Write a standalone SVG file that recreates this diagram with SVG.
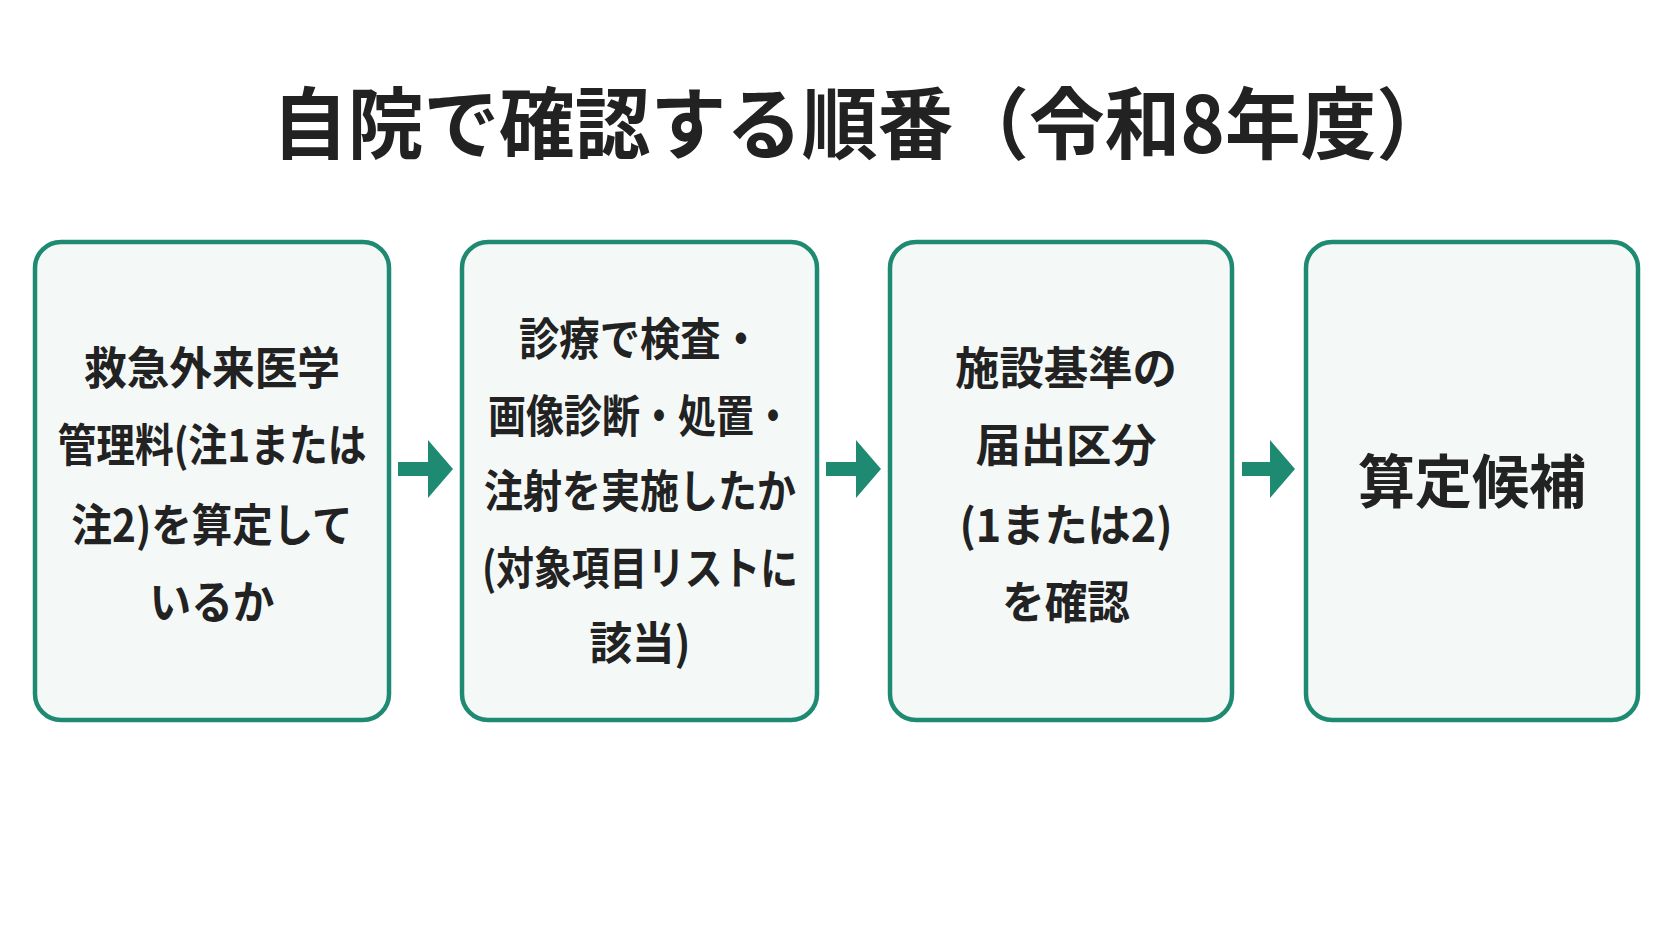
<svg xmlns="http://www.w3.org/2000/svg" width="1672" height="941" viewBox="0 0 1672 941">
<style>
.box{fill:#f4f9f8;stroke:#1f8a72;stroke-width:4.5}
.t{font-family:"Noto Sans CJK JP","Noto Sans",sans-serif;font-weight:700;fill:#222;text-anchor:middle;dominant-baseline:central}
.b{font-size:45px}
.arr{fill:#1f8a72}
</style>
<rect width="1672" height="941" fill="#fff"/>
<text class="t" x="862" y="119" font-size="78" textLength="1180" lengthAdjust="spacingAndGlyphs">自院で確認する順番（令和8年度）</text>
<g id="n1"><rect class="box" x="35" y="242" width="354" height="478" rx="26"/>
<text class="t b" x="212" y="365" textLength="256" lengthAdjust="spacingAndGlyphs">救急外来医学</text><text class="t b" x="212" y="442" textLength="309" lengthAdjust="spacingAndGlyphs">管理料(注1または</text><text class="t b" x="212" y="522" textLength="281" lengthAdjust="spacingAndGlyphs">注2)を算定して</text><text class="t b" x="212" y="599" textLength="125" lengthAdjust="spacingAndGlyphs">いるか</text></g>
<g id="n2"><rect class="box" x="462" y="242" width="355" height="478" rx="26"/>
<text class="t b" x="640" y="336" textLength="242" lengthAdjust="spacingAndGlyphs">診療で検査・</text><text class="t b" x="640" y="413" textLength="304" lengthAdjust="spacingAndGlyphs">画像診断・処置・</text><text class="t b" x="640" y="488" textLength="312" lengthAdjust="spacingAndGlyphs">注射を実施したか</text><text class="t b" x="640" y="565" textLength="316" lengthAdjust="spacingAndGlyphs">(対象項目リストに</text><text class="t b" x="640" y="640" textLength="101" lengthAdjust="spacingAndGlyphs">該当)</text></g>
<g id="n3"><rect class="box" x="890" y="242" width="342" height="478" rx="26"/>
<text class="t b" x="1066" y="365" textLength="222" lengthAdjust="spacingAndGlyphs">施設基準の</text><text class="t b" x="1066" y="442" textLength="181" lengthAdjust="spacingAndGlyphs">届出区分</text><text class="t b" x="1066" y="522" textLength="213" lengthAdjust="spacingAndGlyphs">(1または2)</text><text class="t b" x="1066" y="599" textLength="128" lengthAdjust="spacingAndGlyphs">を確認</text></g>
<g id="n4"><rect class="box" x="1306" y="242" width="332" height="478" rx="26"/>
<text class="t" x="1472" y="478" font-size="58" textLength="228" lengthAdjust="spacingAndGlyphs">算定候補</text></g>
<g id="connectors">
<path class="arr" d="M398 462h30v-22l25 29-25 29v-22h-30z"/>
<path class="arr" d="M826 462h30v-22l25 29-25 29v-22h-30z"/>
<path class="arr" d="M1242 462h28v-22l25 29-25 29v-22h-28z"/>
</g>
</svg>
